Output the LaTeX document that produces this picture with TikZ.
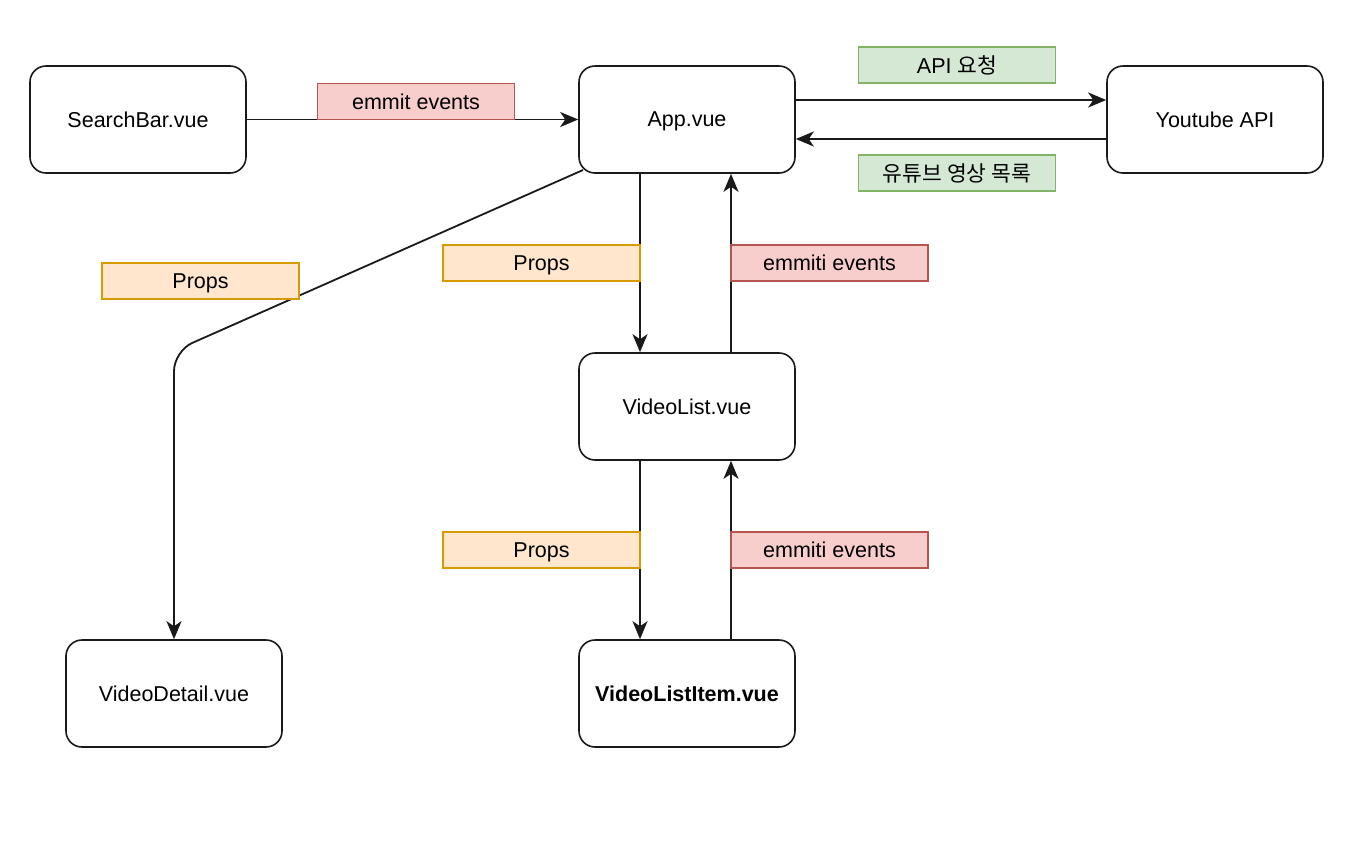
\documentclass[tikz,border=0pt]{standalone}
\usepackage{fontspec}
\setmainfont{Liberation Sans}
\newfontfamily\kr{Noto Sans CJK KR}
\usetikzlibrary{arrows.meta}
\definecolor{redfill}{HTML}{F8CECC}\definecolor{redline}{HTML}{B85450}
\definecolor{greenfill}{HTML}{D5E8D4}\definecolor{greenline}{HTML}{82B366}
\definecolor{orangefill}{HTML}{FFE6CC}\definecolor{orangeline}{HTML}{D79B00}
\definecolor{ink}{HTML}{1A1A1A}
\tikzset{
  comp/.style={draw=ink, line width=1.6pt, rounded corners=16pt, minimum width=216pt, minimum height=107pt, inner sep=0pt, text depth=0pt, font=\fontsize{21.5}{25}\selectfont},
  tag/.style={line width=1.6pt, minimum width=197pt, minimum height=36pt, inner sep=0pt, text depth=0pt, font=\fontsize{21.5}{25}\selectfont},
  redtag/.style={tag, draw=redline, fill=redfill},
  greentag/.style={tag, draw=greenline, fill=greenfill},
  orangetag/.style={tag, draw=orangeline, fill=orangefill},
  conn/.style={draw=ink, line width=1.8pt, -{Stealth[length=18pt,width=15pt,inset=5pt]}},
}
\begin{document}
\begin{tikzpicture}[x=1pt,y=-1pt]
\useasboundingbox (0,0) rectangle (1362,844);
\node[comp] (search) at (138,119.5) {SearchBar.vue};
\node[comp] (app) at (687,119.5) {App.vue};
\node[comp] (yt) at (1215,119.5) {Youtube API};
\node[comp] (list) at (687,406.5) {VideoList.vue};
\node[comp] (detail) at (174,693.5) {VideoDetail.vue};
\node[comp, font=\fontsize{21.5}{25}\selectfont\bfseries] (item) at (687,693.5) {VideoListItem.vue};

\draw[conn] (search) -- (app);
\draw[conn] ([yshift=19.5pt]app.east) -- ([yshift=19.5pt]yt.west);
\draw[conn] ([yshift=-19.5pt]yt.west) -- ([yshift=-19.5pt]app.east);
\draw[conn] (app.south -| 640,0) -- (list.north -| 640,0);
\draw[conn] (list.north -| 731,0) -- (app.south -| 731,0);
\draw[conn] (list.south -| 640,0) -- (item.north -| 640,0);
\draw[conn] (item.north -| 731,0) -- (list.south -| 731,0);
\coordinate (bend) at (174,351);
\coordinate (appsw) at (583,170);
\draw[conn, rounded corners=20pt] (appsw) -- (bend) -- (detail.north);

\node[redtag] (t1) at (416,101.5) {emmit events};
\node[greentag] (t2) at (957,65) {API {\kr 요청}};
\node[greentag] (t3) at (957,173) {\kr 유튜브 영상 목록};
\node[orangetag] (t4) at (200.5,281) {Props};
\node[orangetag] (t5) at (541.5,263) {Props};
\node[redtag] (t6) at (829.5,263) {emmiti events};
\node[orangetag] (t7) at (541.5,550) {Props};
\node[redtag] (t8) at (829.5,550) {emmiti events};
\end{tikzpicture}
\end{document}
